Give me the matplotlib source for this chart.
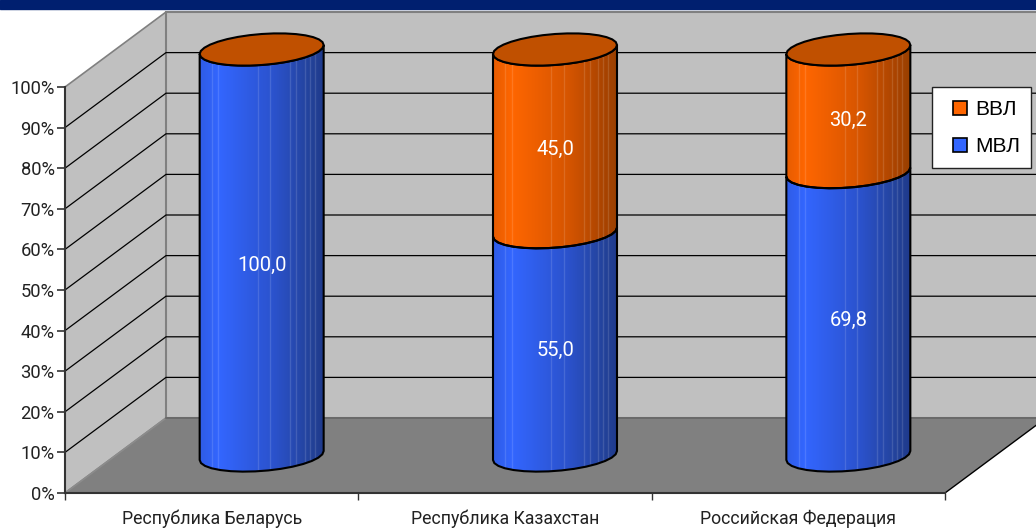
import numpy as np
import matplotlib
matplotlib.use('Agg')
import matplotlib.pyplot as plt
from matplotlib.colors import LinearSegmentedColormap
from matplotlib.legend_handler import HandlerPatch
from matplotlib.patches import Polygon, Patch, Rectangle

plt.rcParams['font.family'] = ['Roboto', 'Liberation Sans', 'DejaVu Sans']

countries = ['Республика Беларусь', 'Республика Казахстан', 'Российская Федерация']
mvl = [100.0, 55.0, 69.8]
vvl = [0.0, 45.0, 30.2]
mvl_text = ['100,0', '55,0', '69,8']
vvl_text = ['', '45,0', '30,2']

W, H = 1036, 528
fig = plt.figure(figsize=(W / 100, H / 100), dpi=100, facecolor='white')
# передняя плоскость графика, пиксели картинки
ax = fig.add_axes([65 / W, 1 - 493 / H, 880 / W, 406 / H], facecolor='none')
ax.set_xlim(0, 3)
ax.set_ylim(0, 100)
sx = 880 / 3
sy = 4.06
dx = 101 / sx     # глубина по x
dy = 75 / sy      # глубина по y

fig.add_artist(Rectangle((0, 1 - 9 / H), 1, 9 / H, color='#001F6F', transform=fig.transFigure))


def flat(points, color, z, edge='none', lw=0):
    p = Polygon(points, closed=True, facecolor=color, edgecolor=edge, lw=lw, zorder=z, clip_on=False)
    ax.add_patch(p)
    return p


# стенки и пол
flat([(0, 0), (dx, dy), (dx, 100 + dy), (0, 100)], '#C0C0C0', 1, '#808080', 1.2)
flat([(dx, dy), (3 + dx, dy), (3 + dx, 100 + dy), (dx, 100 + dy)], '#C0C0C0', 1, '#808080', 1.5)
flat([(0, 0), (3, 0), (3 + dx, dy), (dx, dy)], '#808080', 2)
ax.plot([0, dx], [0, dy], color='#8C8C8C', lw=1.2, zorder=3, clip_on=False)
ax.plot([3, 3 + dx], [0, dy], color='black', lw=1.0, zorder=3, clip_on=False)
for g in range(10, 100, 10):
    ax.plot([0, dx, 3 + dx], [g, g + dy, g + dy], color='black', lw=0.9, zorder=2, clip_on=False)
ax.plot([dx, 3 + dx], [dy, dy], color='#666666', lw=1.2, zorder=3, clip_on=False)

blue = LinearSegmentedColormap.from_list('b', [(0, '#2F5CE6'), (0.15, '#3366FF'), (0.6, '#2B52CC'), (0.9, '#234299'), (1, '#1F3A8C')])
orange = LinearSegmentedColormap.from_list('o', [(0, '#E65C00'), (0.15, '#FF6600'), (0.6, '#D65500'), (0.9, '#A84300'), (1, '#994000')])
stripes = [0.1, 0.15, 0.47, 0.57, 0.73, 0.78, 0.85, 0.89, 0.93]

a = 62 / sx
tilt = 4.5 / sy
minor = 15.5 / sy
t_front = np.linspace(np.pi, 2 * np.pi, 16)
t_all = np.linspace(0, 2 * np.pi, 33)


def arc(cx, cy, t):
    return np.column_stack([cx + a * np.cos(t), cy + tilt * np.cos(t) + minor * np.sin(t)])


def body(cx, y0, y1, cmap):
    pts = np.vstack([arc(cx, y0, t_front), arc(cx, y1, t_front[::-1])])
    grad = np.linspace(0, 1, 256).reshape(1, -1)
    im = ax.imshow(grad, cmap=cmap, extent=(cx - a, cx + a, y0 - 20, y1 + 20), aspect='auto', zorder=5)
    patch = flat(pts, 'none', 6, 'black', 1.5)
    im.set_clip_box(fig.bbox)   # цилиндр выходит за пределы осей
    im.set_clip_path(patch)
    for s in stripes:
        xs = cx - a + 2 * a * s
        ln, = ax.plot([xs, xs], [y0 - 20, y1 + 20], color='white', alpha=0.13, lw=1, zorder=5.5)
        ln.set_clip_box(fig.bbox)
        ln.set_clip_path(patch)


label_shift = [[-3.2, -1.0], [-1.7, -2.0], [-1.7, -2.4]]   # сдвиг подписей, в % оси

for i in range(len(countries)):
    cx = i + 0.5 + dx / 2 - 0.5 / sx
    cy = dy / 2
    body(cx, cy, cy + mvl[i], blue)
    if vvl[i] > 0:
        body(cx, cy + mvl[i], cy + mvl[i] + vvl[i], orange)
    flat(arc(cx, cy + mvl[i] + vvl[i], t_all), '#C05000', 7, 'black', 1.5)
    ax.text(cx, cy + mvl[i] / 2 + label_shift[i][0], mvl_text[i], color='white', fontsize=14.5,
            ha='center', va='center', zorder=8)
    if vvl[i] > 0:
        ax.text(cx, cy + mvl[i] + vvl[i] / 2 + label_shift[i][1], vvl_text[i], color='white', fontsize=14.5,
                ha='center', va='center', zorder=8)

ax.set_xlim(0, 3)
ax.set_ylim(0, 100)

# оси
for side in ['top', 'right']:
    ax.spines[side].set_visible(False)
for side in ['left', 'bottom']:
    ax.spines[side].set_color('#333333')
    ax.spines[side].set_linewidth(1.5)
    ax.spines[side].set_zorder(4)
ax.set_yticks(np.arange(0, 101, 10))
ax.set_yticklabels([f'{v}%' for v in range(0, 101, 10)], fontsize=13.2, color='#222222')
ax.set_xticks([0, 1, 2, 3])
ax.set_xticklabels([])
ax.set_xticks([0.5, 1.5, 2.5], countries, minor=True, fontsize=12.8, color='#222222')
ax.tick_params(axis='y', length=5.5, width=1.2, color='#333333', pad=2)
ax.tick_params(axis='x', which='major', length=5, width=1, color='#333333')
ax.tick_params(axis='x', which='minor', length=0, pad=12)


def swatch(legend, orig_handle, xdescent, ydescent, width, height, fontsize):
    # квадрат прижат к правому краю места под маркер
    side = 14.5 * 0.72
    return Rectangle((width - xdescent - side, (height - side) / 2 - ydescent), side, side)


handles = [Patch(facecolor='#FF6600', edgecolor='black', lw=1.2, label='ВВЛ'),
           Patch(facecolor='#3366FF', edgecolor='black', lw=1.2, label='МВЛ')]
leg = fig.legend(handles=handles, loc='upper left', bbox_to_anchor=(932 / W, 1 - 87 / H), bbox_transform=fig.transFigure,
                 fancybox=False, framealpha=1, edgecolor='#222222', prop={'family': 'Liberation Sans', 'size': 15},
                 handlelength=1.13, handleheight=1.0, handletextpad=0.38, labelspacing=0.8, borderpad=0.55, borderaxespad=0,
                 handler_map={Patch: HandlerPatch(patch_func=swatch)})
leg.get_frame().set_linewidth(1.0)
leg.set_zorder(20)

fig.savefig('out.png', dpi=100)
